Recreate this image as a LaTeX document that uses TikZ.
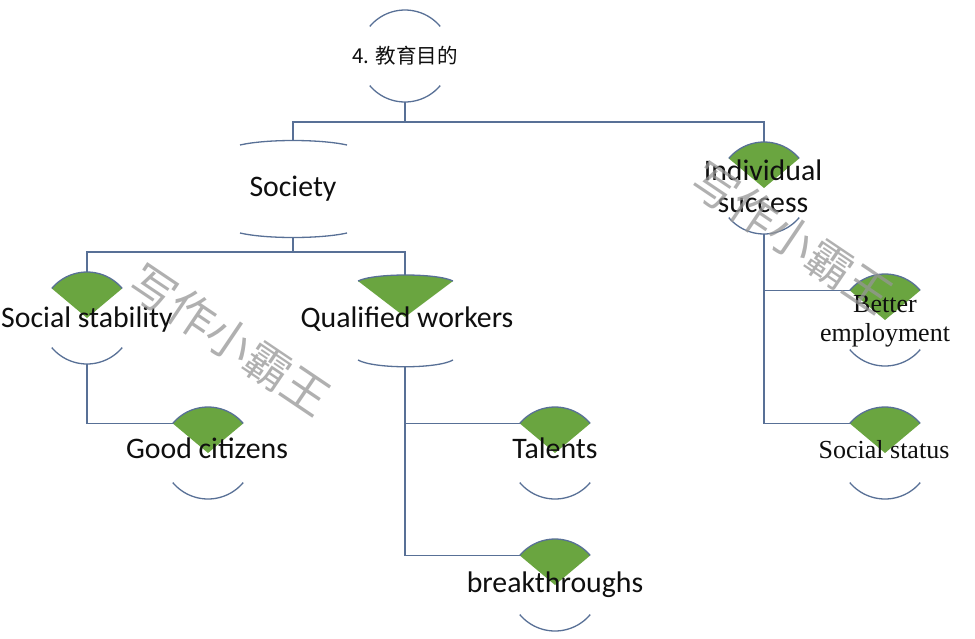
\documentclass[tikz,border=0pt]{standalone}
\usepackage{fontspec}
\setmainfont{Carlito}
\newfontfamily\serifface{Liberation Serif}
\newfontfamily\cjkface{Noto Sans CJK SC}
\usetikzlibrary{calc}
\definecolor{fangreen}{RGB}{106,165,64}
\definecolor{linec}{RGB}{88,112,150}
\definecolor{wmgray}{RGB}{150,150,150}
\definecolor{txt}{RGB}{15,15,15}
\tikzset{
  arcline/.style={draw=linec,line width=1.3pt},
  conn/.style={draw=linec,line width=1.2pt},
  lbl/.style={anchor=base,inner sep=0pt,text=txt,font=\fontsize{29.8}{32}\selectfont},
  serlbl/.style={anchor=base,inner sep=0pt,text=txt,font=\serifface\fontsize{26}{29}\selectfont},
  cjklbl/.style={anchor=base,inner sep=0pt,text=txt,font=\cjkface\fontsize{20.5}{24}\selectfont},
  wmark/.style={text=wmgray,opacity=0.75,inner sep=0pt,rotate=-34,font=\cjkface\fontsize{46}{50}\selectfont}
}
% #1 name, #2 centre x, #3 centre y (pixels, downwards)
\newcommand\fannode[3]{%
  \coordinate (#1-c) at (#2,-#3);
  \fill[fangreen] (#1-c) -- ++(140:46) arc[start angle=140,end angle=40,radius=46] -- cycle;
  \draw[arcline] (#1-c) ++(140:46) arc[start angle=140,end angle=40,radius=46];
  \draw[arcline] (#1-c) ++(220:46) arc[start angle=220,end angle=320,radius=46];
  \coordinate (#1-top) at ($(#1-c)+(0,46)$);
  \coordinate (#1-bot) at ($(#1-c)+(0,-46)$);
  \coordinate (#1-left) at ($(#1-c)+(140:46)$);
}
\newcommand\ringnode[3]{%
  \coordinate (#1-c) at (#2,-#3);
  \draw[arcline] (#1-c) ++(140:46) arc[start angle=140,end angle=40,radius=46];
  \draw[arcline] (#1-c) ++(220:46) arc[start angle=220,end angle=320,radius=46];
  \coordinate (#1-top) at ($(#1-c)+(0,46)$);
  \coordinate (#1-bot) at ($(#1-c)+(0,-46)$);
}
\begin{document}
\begin{tikzpicture}[x=1pt,y=1pt]
\useasboundingbox[fill=white] (0,0) rectangle (975,-638);

% shapes
\ringnode{root}{405}{56}
\fannode{ind}{764}{188}
\fannode{ss}{87}{318}
\fannode{gc}{208}{453}
\fannode{tal}{555}{453}
\fannode{br}{555}{585}
\fannode{be}{885}{320}
\fannode{st}{885}{453}

% Society (flat arcs)
\coordinate (soc-top) at (293,-141);
\coordinate (soc-bot) at (293,-237);
\draw[arcline] (240,-145) .. controls (266,-139) and (320,-139) .. (347,-145);
\draw[arcline] (240,-233) .. controls (266,-239) and (320,-239) .. (347,-233);

% Qualified workers (wide wedge)
\coordinate (qw-top) at (405,-275);
\coordinate (qw-bot) at (405,-367);
\fill[fangreen] (358,-281) -- (405,-317) -- (453,-281) .. controls (437,-273) and (374,-273) .. cycle;
\draw[arcline] (358,-281) .. controls (374,-273) and (437,-273) .. (453,-281);
\draw[arcline] (358,-360) .. controls (374,-369) and (437,-369) .. (453,-360);

% connectors
\draw[conn] (root-bot) -- ++(0,-20) -| (soc-top);
\draw[conn] (root-bot) -- ++(0,-20) -| (ind-top);
\draw[conn] (soc-bot) -- ++(0,-15) -| (ss-top);
\draw[conn] (soc-bot) -- ++(0,-15) -| (qw-top);
\draw[conn] (ss-bot) |- (gc-left);
\draw[conn] (qw-bot) |- (tal-left);
\draw[conn] (qw-bot) |- (br-left);
\draw[conn] (ind-bot) |- (be-left);
\draw[conn] (ind-bot) |- (st-left);

% labels
\node[cjklbl] (rootT) at (405,-63) {4. 教育目的};
\node[lbl] (socT) at (293,-196) {Society};
\node[lbl] (indT) at (763,-180) {\begin{tabular}[t]{@{}c@{}}Individual\\success\end{tabular}};
\node[lbl] (ssT) at (87,-327) {Social stability};
\node[lbl] (qwT) at (407,-327) {Qualified workers};
\node[lbl] (gcT) at (207,-458) {Good citizens};
\node[lbl] (talT) at (555,-458) {Talents};
\node[lbl] (brT) at (555,-592) {breakthroughs};
\node[serlbl] (beT) at (885,-312) {\begin{tabular}[t]{@{}c@{}}Better\\employment\end{tabular}};
\node[serlbl] (stT) at (884,-458) {Social status};

% watermarks
\node[wmark] (wm1) at (230,-340) {写作小霸王};
\node[wmark] (wm2) at (792,-238) {写作小霸王};
\end{tikzpicture}
\end{document}
